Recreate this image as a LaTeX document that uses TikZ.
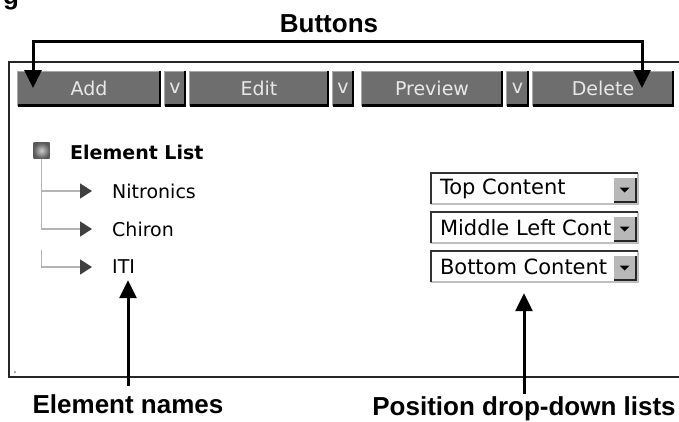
\documentclass[tikz,border=0pt]{standalone}
\usepackage{fontspec}
\setmainfont{Liberation Sans}
\newfontfamily\uifont{DejaVu Sans}
\usetikzlibrary{arrows.meta}
\definecolor{btngray}{HTML}{6E6E6E}
\definecolor{btnlight}{HTML}{A8A8A8}
\definecolor{btntext}{HTML}{E8E8E8}
\definecolor{treegray}{HTML}{B4B4B4}
\definecolor{ddgray}{HTML}{B8B8B8}
\tikzset{
  lbl/.style={font=\fontsize{26}{30}\selectfont\bfseries, inner sep=0pt},
  callout/.style={line width=3pt, -{Triangle[width=17pt,length=18pt]}},
  btn/.style={fill=btngray, text=btntext, minimum height=34pt, inner sep=0pt,
    font=\uifont\fontsize{19}{22}\selectfont},
  uitxt/.style={font=\uifont\fontsize{19}{22}\selectfont, inner sep=0pt, anchor=west},
  ddbox/.style={fill=white, minimum width=207pt, minimum height=31pt, inner sep=0pt},
  ddbtn/.style={fill=ddgray, minimum width=22pt, minimum height=24pt, inner sep=0pt},
  treeline/.style={treegray, line width=1.5pt, shorten >=20pt,
    -{Triangle[width=15pt,length=12pt,color=black!75]}},
}
\begin{document}
\begin{tikzpicture}[x=1pt,y=-1pt] % ------ Element list panel -----------------------------
  \useasboundingbox (0,0) rectangle (679,421);
  \clip (0,0) rectangle (679,421);
  \node[lbl, anchor=base west] (figg) at (3,4) {g};
  % panel frame
  \draw[line width=1.5pt, black!85] (679,62) -| (9,377) -- (679,377);
  \fill[black!50] (15,372) circle (1pt);
  % buttons
  \foreach \nm/\x/\w/\txt in {add/89/142/Add, va/175/20/v, edit/259/138/Edit, vb/343/20/v,
      prev/432/140/Preview, vc/517.5/21/v, del/603/140/Delete}{
    \node[btn, minimum width=\w pt] (\nm) at (\x,88.5) {\txt};
    \draw[btnlight, line width=1pt] (\nm.south west) |- (\nm.north east);
    \draw[line width=2.5pt] (\nm.north east) |- (\nm.south west);
  }
  \node[lbl, anchor=base] (btnlbl) at (329,32) {Buttons};
  \coordinate (bl) at (33,88);
  \coordinate (bt) at (330,41);
  \coordinate (br) at (642,88);
  \draw[line width=3pt, {Triangle[width=17pt,length=18pt]}-{Triangle[width=17pt,length=18pt]}]
    (bl) |- (bt) -| (br);
  % element tree
  \node[minimum size=16pt, inner sep=0pt, inner color=black!20, outer color=black!65] (icon) at (41.5,150.5) {};
  \node[uitxt, font=\uifont\bfseries\fontsize{19}{22}\selectfont] (elist) at (70,152) {Element List};
  \node[uitxt] (n1) at (112,191) {Nitronics};
  \node[uitxt] (n2) at (112,229) {Chiron};
  \node[uitxt] (iti) at (112,267) {ITI};
  \coordinate (tgap) at (41.5,250);
  \draw[treeline] (icon.south) |- (n1.west);
  \draw[treeline] (icon.south) |- (n2.west);
  \draw[treeline] (tgap) |- (iti.west);
  % position drop-down lists
  \foreach \i/\y/\txt in {1/188.5/Top Content, 2/227.5/Middle Left Cont, 3/266.5/Bottom Content}{
    \node[ddbox] (dd\i) at (534.5,\y) {};
    \node[uitxt, font=\uifont\fontsize{21}{24}\selectfont] (ddt\i) at ([xshift=9pt]dd\i.west) {\txt};
    \draw[line width=1.5pt, black!25] (dd\i.north east) |- (dd\i.south west);
    \draw[line width=2.5pt, black!80] (dd\i.south west) |- (dd\i.north east);
    \node[ddbtn] (ddb\i) at ([xshift=-13.5pt,yshift=-1.5pt]dd\i.east) {};
    \draw[white, line width=1pt] (ddb\i.south west) |- (ddb\i.north east);
    \draw[line width=2pt, black!85] (ddb\i.north east) |- (ddb\i.south west);
    \fill ([xshift=-5pt,yshift=2.5pt]ddb\i.center) -- ++(10pt,0pt) -- ++(-5pt,-5pt) -- cycle;
  }
  % callouts
  \node[lbl, anchor=base] (enames) at (128,413) {Element names};
  \draw[callout, shorten <=8pt, shorten >=6pt] (enames.north) -- (enames.north |- iti.south);
  \node[lbl, anchor=base] (posl) at (524,415.5) {Position drop-down lists};
  \draw[callout, shorten <=2pt, shorten >=11pt] (posl.north) -- (posl.north |- dd3.south);
\end{tikzpicture}
\end{document}
